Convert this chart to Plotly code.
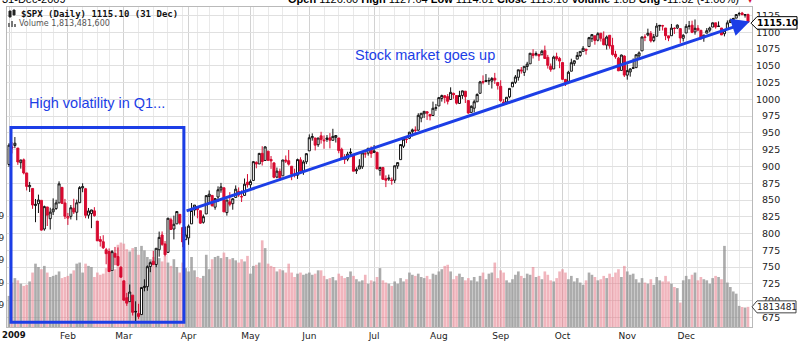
import datetime as dt
import plotly.graph_objects as go

# ---------------------------------------------------------------- data
# S&P 500 index ($SPX), daily sessions of 2009 (day-of-month per month)
SESSIONS = {
    1: [2, 5, 6, 7, 8, 9, 12, 13, 14, 15, 16, 20, 21, 22, 23, 26, 27, 28, 29, 30],
    2: [2, 3, 4, 5, 6, 9, 10, 11, 12, 13, 17, 18, 19, 20, 23, 24, 25, 26, 27],
    3: [2, 3, 4, 5, 6, 9, 10, 11, 12, 13, 16, 17, 18, 19, 20, 23, 24, 25, 26, 27, 30, 31],
    4: [1, 2, 3, 6, 7, 8, 9, 13, 14, 15, 16, 17, 20, 21, 22, 23, 24, 27, 28, 29, 30],
    5: [1, 4, 5, 6, 7, 8, 11, 12, 13, 14, 15, 18, 19, 20, 21, 22, 26, 27, 28, 29],
    6: [1, 2, 3, 4, 5, 8, 9, 10, 11, 12, 15, 16, 17, 18, 19, 22, 23, 24, 25, 26, 29, 30],
    7: [1, 2, 6, 7, 8, 9, 10, 13, 14, 15, 16, 17, 20, 21, 22, 23, 24, 27, 28, 29, 30, 31],
    8: [3, 4, 5, 6, 7, 10, 11, 12, 13, 14, 17, 18, 19, 20, 21, 24, 25, 26, 27, 28, 31],
    9: [1, 2, 3, 4, 8, 9, 10, 11, 14, 15, 16, 17, 18, 21, 22, 23, 24, 25, 28, 29, 30],
    10: [1, 2, 5, 6, 7, 8, 9, 12, 13, 14, 15, 16, 19, 20, 21, 22, 23, 26, 27, 28, 29, 30],
    11: [2, 3, 4, 5, 6, 9, 10, 11, 12, 13, 16, 17, 18, 19, 20, 23, 24, 25, 27, 30],
    12: [1, 2, 3, 4, 7, 8, 9, 10, 11, 14, 15, 16, 17, 18, 21, 22, 23, 24, 28, 29, 30, 31],
}

opens = [
    903.0, 929.2, 931.2, 927.5, 905.7, 909.9, 890.4, 869.8, 867.3, 841.8, 844.5, 849.6, 806.8, 839.7, 822.2, 832.5, 837.3, 845.7, 868.9, 845.7,
    823.1, 825.7, 837.8, 831.8, 846.1, 868.2, 866.9, 827.4, 829.9, 833.9, 818.6, 791.1, 787.9, 775.9, 773.3, 744.7, 770.6, 765.8, 749.9,
    729.6, 704.4, 698.6, 708.3, 684.0, 680.8, 679.3, 719.6, 720.9, 751.0, 758.8, 753.9, 776.0, 797.9, 784.6, 772.0, 820.6, 806.8, 814.5, 828.7, 809.1, 790.9,
    793.6, 814.5, 835.1, 839.8, 834.1, 816.8, 829.3, 855.3, 856.9, 839.4, 854.5, 865.2, 868.3, 831.3, 847.3, 844.6, 853.9, 862.8, 854.5, 856.9, 876.6,
    872.7, 879.2, 906.1, 903.8, 919.6, 909.0, 922.9, 910.5, 905.4, 884.2, 892.8, 886.1, 909.7, 908.6, 900.4, 888.7, 887.0, 909.9, 892.9, 907.0,
    923.3, 942.9, 942.5, 932.5, 945.7, 938.1, 940.4, 942.7, 939.0, 943.4, 942.5, 925.6, 911.9, 910.9, 919.9, 918.1, 893.5, 896.3, 899.5, 918.8, 919.9, 927.2,
    920.8, 921.2, 894.3, 898.6, 881.9, 881.3, 880.0, 879.6, 900.8, 910.2, 930.2, 940.6, 942.1, 951.9, 953.4, 954.1, 972.2, 978.6, 981.5, 977.7, 976.0, 986.8,
    990.2, 1001.4, 1005.4, 1004.1, 999.8, 1008.9, 1005.8, 994.0, 1005.9, 1012.2, 998.2, 980.6, 986.9, 996.4, 1009.1, 1026.6, 1026.6, 1027.4, 1027.3, 1031.6, 1025.2,
    1019.5, 996.1, 996.1, 1003.8, 1018.7, 1025.4, 1032.9, 1043.9, 1040.2, 1049.0, 1053.0, 1067.9, 1066.6, 1067.1, 1066.4, 1072.7, 1062.6, 1049.5, 1045.4, 1063.7, 1061.0,
    1054.9, 1029.7, 1026.9, 1042.0, 1053.7, 1060.0, 1065.3, 1071.6, 1074.8, 1078.7, 1090.4, 1094.7, 1088.2, 1098.6, 1090.4, 1080.9, 1095.6, 1080.4, 1067.5, 1061.5, 1043.2, 1064.6,
    1036.2, 1040.9, 1047.1, 1047.3, 1064.9, 1072.3, 1092.2, 1096.0, 1098.3, 1087.6, 1094.1, 1109.2, 1109.4, 1106.4, 1094.7, 1094.9, 1105.8, 1106.5, 1105.5, 1091.1,
    1098.9, 1109.0, 1110.6, 1100.5, 1106.0, 1103.0, 1092.0, 1098.7, 1103.1, 1107.8, 1114.1, 1108.6, 1106.4, 1097.9, 1105.0, 1114.5, 1118.8, 1121.1, 1127.5, 1128.6, 1125.5, 1126.60,
]
highs = [
    934.7, 936.6, 943.9, 927.5, 910.0, 911.9, 890.4, 877.0, 867.3, 851.6, 858.1, 849.6, 841.7, 839.7, 838.6, 852.5, 850.5, 877.9, 868.9, 851.7,
    830.8, 842.6, 851.9, 850.6, 870.8, 875.0, 868.1, 838.2, 835.5, 839.4, 818.6, 796.2, 797.6, 778.7, 777.9, 775.5, 780.1, 779.4, 751.3,
    729.6, 711.7, 724.1, 708.3, 699.1, 695.3, 719.6, 731.9, 752.6, 758.3, 774.5, 778.1, 803.0, 803.2, 788.9, 823.4, 823.7, 826.8, 832.9, 828.7, 809.1, 810.5,
    813.6, 845.6, 842.5, 839.8, 834.1, 828.4, 856.9, 864.3, 856.9, 852.9, 870.4, 875.6, 868.3, 850.1, 861.8, 852.9, 871.8, 868.8, 864.5, 882.1, 888.7,
    880.5, 907.9, 907.7, 920.3, 930.2, 930.2, 922.9, 915.6, 905.4, 898.4, 896.9, 910.0, 916.4, 924.6, 900.4, 896.7, 911.8, 913.8, 909.5, 920.0,
    947.8, 949.4, 942.5, 942.5, 951.7, 946.3, 946.9, 949.8, 956.2, 946.3, 942.5, 928.0, 918.4, 921.9, 927.1, 918.1, 898.7, 910.9, 921.4, 922.0, 927.2, 930.0,
    931.9, 921.2, 898.7, 898.6, 886.8, 887.9, 883.6, 901.1, 905.8, 933.0, 943.0, 941.9, 951.6, 956.5, 959.8, 979.4, 979.8, 982.5, 982.4, 977.8, 996.7, 993.2,
    1003.6, 1007.1, 1006.6, 1008.0, 1018.0, 1010.1, 1005.8, 1012.8, 1013.1, 1012.6, 998.2, 991.2, 999.6, 1008.9, 1027.6, 1035.8, 1037.8, 1032.5, 1033.3, 1039.5, 1025.2,
    1028.5, 1000.3, 1003.4, 1016.5, 1026.1, 1036.3, 1044.1, 1048.2, 1049.7, 1056.0, 1068.8, 1074.8, 1071.5, 1067.3, 1073.8, 1080.2, 1066.3, 1053.5, 1065.1, 1069.6, 1063.4,
    1054.9, 1030.6, 1042.6, 1060.6, 1058.0, 1070.7, 1071.5, 1079.5, 1075.3, 1093.2, 1096.6, 1094.7, 1100.2, 1098.6, 1101.4, 1095.2, 1095.8, 1091.8, 1072.5, 1063.3, 1066.8, 1065.6,
    1052.2, 1046.4, 1061.0, 1066.7, 1071.5, 1093.2, 1097.0, 1105.4, 1101.9, 1097.6, 1113.7, 1110.8, 1111.1, 1106.4, 1094.7, 1112.4, 1107.6, 1111.8, 1105.5, 1097.2,
    1112.3, 1116.9, 1117.3, 1119.1, 1110.7, 1103.0, 1095.9, 1106.3, 1108.4, 1114.8, 1114.1, 1116.2, 1106.4, 1103.7, 1117.7, 1120.3, 1121.6, 1126.5, 1130.4, 1130.4, 1126.4, 1127.64,
]
lows = [
    899.4, 919.5, 927.3, 902.4, 896.8, 888.3, 864.3, 862.0, 836.9, 817.0, 830.7, 804.5, 804.3, 811.3, 806.1, 827.7, 835.4, 845.7, 844.0, 821.7,
    812.9, 821.1, 829.2, 819.9, 845.4, 861.7, 822.9, 822.3, 808.1, 825.2, 789.0, 780.7, 777.0, 754.3, 742.4, 744.7, 752.9, 751.8, 734.5,
    699.7, 692.3, 698.6, 677.9, 666.8, 672.9, 679.3, 713.9, 714.8, 742.5, 753.4, 749.9, 765.6, 781.8, 766.2, 772.0, 805.5, 791.4, 814.5, 813.4, 779.8, 790.9,
    783.3, 814.5, 826.7, 822.8, 814.5, 814.8, 829.3, 845.4, 840.3, 835.6, 847.0, 860.9, 832.4, 826.8, 840.6, 835.6, 853.9, 854.7, 847.1, 856.9, 868.6,
    866.1, 879.2, 897.3, 903.8, 901.4, 909.0, 908.7, 896.5, 882.5, 882.5, 878.9, 886.1, 905.2, 901.4, 879.6, 883.8, 881.5, 891.9, 887.6, 903.6,
    923.3, 938.5, 923.9, 929.3, 934.1, 926.4, 936.7, 927.0, 939.0, 935.7, 919.7, 911.6, 903.8, 907.9, 915.8, 893.0, 888.9, 896.3, 896.3, 913.0, 916.2, 912.9,
    920.8, 896.4, 886.4, 879.9, 869.3, 878.5, 872.8, 875.3, 896.5, 910.2, 927.5, 934.9, 940.9, 945.0, 947.8, 953.3, 965.9, 972.3, 969.4, 968.7, 976.0, 982.9,
    990.2, 996.7, 994.3, 992.5, 999.8, 1000.9, 992.4, 993.4, 1000.8, 994.6, 978.5, 980.6, 980.6, 996.4, 1009.1, 1022.5, 1026.2, 1021.6, 1016.2, 1023.1, 1014.6,
    996.3, 991.0, 992.3, 1001.7, 1018.7, 1023.1, 1028.0, 1038.4, 1035.0, 1043.4, 1052.9, 1061.0, 1064.3, 1057.5, 1066.4, 1060.4, 1045.9, 1041.2, 1045.4, 1057.8, 1046.5,
    1029.5, 1019.9, 1025.9, 1042.0, 1050.0, 1060.0, 1063.0, 1071.6, 1066.7, 1078.7, 1085.4, 1081.5, 1086.5, 1086.2, 1080.8, 1074.3, 1075.5, 1065.2, 1060.6, 1042.2, 1043.2, 1033.4,
    1029.4, 1033.9, 1045.2, 1047.3, 1059.3, 1072.3, 1086.8, 1094.1, 1084.8, 1085.3, 1094.1, 1102.2, 1102.7, 1088.4, 1086.8, 1094.9, 1097.6, 1104.8, 1083.7, 1086.3,
    1098.9, 1104.0, 1098.7, 1096.5, 1101.4, 1088.6, 1085.9, 1098.7, 1100.2, 1107.8, 1105.4, 1107.9, 1095.9, 1093.9, 1105.0, 1114.5, 1116.0, 1121.1, 1124.0, 1126.2, 1121.9, 1114.81,
]
closes = [
    931.8, 927.5, 934.7, 906.7, 909.7, 890.4, 870.3, 871.8, 842.6, 843.7, 850.1, 805.2, 840.2, 827.5, 832.0, 836.6, 845.7, 874.1, 845.1, 825.9,
    825.4, 838.5, 832.2, 845.9, 868.6, 869.9, 827.2, 833.7, 835.2, 826.8, 789.2, 788.4, 778.9, 770.1, 743.3, 773.1, 764.9, 752.8, 735.1,
    700.8, 696.3, 712.9, 682.6, 683.4, 676.5, 719.6, 721.4, 750.7, 756.6, 753.9, 778.1, 794.4, 784.0, 768.5, 822.9, 806.1, 813.9, 832.9, 815.9, 787.5, 797.9,
    811.1, 834.4, 842.5, 835.5, 815.6, 825.2, 856.6, 858.7, 841.5, 852.1, 865.3, 869.6, 832.4, 850.1, 843.6, 851.9, 866.2, 857.5, 855.2, 873.6, 872.8,
    877.5, 907.2, 903.8, 919.5, 907.4, 929.2, 909.2, 908.4, 883.9, 893.1, 882.9, 909.7, 908.1, 903.5, 888.3, 887.0, 910.3, 893.1, 906.8, 919.1,
    942.9, 944.7, 931.8, 942.5, 940.1, 939.1, 942.4, 939.2, 944.9, 946.2, 923.7, 912.0, 910.7, 918.4, 921.2, 893.0, 895.1, 900.9, 920.3, 918.9, 927.2, 919.3,
    923.3, 896.4, 898.7, 881.0, 879.6, 882.7, 879.1, 901.1, 905.8, 932.7, 940.7, 940.4, 951.1, 954.6, 954.1, 976.3, 979.3, 982.2, 979.6, 975.2, 986.8, 987.5,
    1002.6, 1005.7, 1002.7, 997.1, 1010.5, 1007.1, 994.4, 1005.8, 1012.7, 1004.1, 979.7, 989.7, 996.5, 1007.4, 1026.1, 1025.6, 1028.0, 1028.1, 1031.0, 1028.9, 1020.6,
    998.0, 994.8, 1003.2, 1016.4, 1025.4, 1033.4, 1044.1, 1042.7, 1049.3, 1052.6, 1068.8, 1065.5, 1068.3, 1064.7, 1071.7, 1060.9, 1050.8, 1044.4, 1063.0, 1060.6, 1057.1,
    1029.9, 1025.2, 1040.5, 1054.7, 1057.6, 1065.5, 1071.5, 1076.2, 1073.2, 1092.0, 1096.6, 1087.7, 1097.9, 1091.1, 1081.4, 1092.9, 1079.6, 1067.0, 1063.4, 1042.6, 1066.1, 1036.2,
    1042.9, 1045.4, 1046.5, 1066.6, 1069.3, 1093.1, 1093.0, 1098.5, 1087.2, 1093.5, 1109.3, 1110.3, 1109.8, 1094.9, 1091.4, 1106.2, 1105.7, 1110.6, 1091.5, 1095.6,
    1108.9, 1109.2, 1099.9, 1106.0, 1103.3, 1091.9, 1095.9, 1102.4, 1106.4, 1114.1, 1107.9, 1109.2, 1096.1, 1102.5, 1114.1, 1118.0, 1120.6, 1126.5, 1127.8, 1126.2, 1126.42, 1115.10,
]
# daily volume, billions of shares
volume_bn = [
    2.8, 4.0, 4.4, 4.2, 3.9, 3.7, 3.8, 4.1, 4.9, 5.7, 5.4, 5.2, 5.5, 4.9, 4.5, 4.6, 4.7, 5.0, 4.4, 4.5,
    4.6, 4.8, 5.1, 5.7, 5.8, 4.9, 5.7, 5.5, 5.4, 4.5, 4.9, 4.7, 4.8, 5.3, 4.9, 5.0, 5.2, 7.4, 7.6,
    7.5, 7.0, 6.8, 7.1, 7.2, 6.5, 7.3, 6.9, 6.3, 6.1, 6.3, 5.8, 6.2, 5.9, 6.4, 5.8, 5.5, 6.1, 5.4, 4.9, 5.8, 5.3,
    5.0, 6.3, 5.1, 4.5, 4.4, 4.6, 6.5, 5.2, 6.1, 6.3, 6.4, 6.2, 6.7, 6.3, 6.1, 6.2, 6.0, 5.8, 6.1, 5.9, 6.4,
    4.8, 5.5, 5.6, 5.8, 7.8, 7.1, 5.7, 5.5, 5.4, 5.0, 5.2, 5.1, 4.9, 5.7, 4.9, 4.5, 4.8, 4.9, 4.7, 4.8,
    4.9, 4.7, 4.8, 5.1, 5.1, 4.6, 4.3, 4.4, 4.5, 4.2, 4.8, 4.6, 4.4, 4.5, 5.0, 4.6, 4.3, 4.1, 4.2, 4.7, 3.9, 4.2,
    4.1, 4.5, 5.3, 4.2, 4.0, 3.9, 3.7, 4.1, 3.9, 4.4, 4.1, 4.3, 4.9, 4.7, 4.6, 4.8, 4.5, 4.4, 4.6, 4.3, 4.8, 4.7,
    5.0, 5.2, 5.5, 5.6, 5.0, 4.3, 4.6, 4.8, 4.5, 4.2, 4.4, 4.2, 4.5, 4.1, 4.6, 4.9, 4.3, 4.8, 4.9, 5.8, 4.4,
    5.1, 4.9, 4.2, 4.0, 4.3, 4.7, 5.0, 4.6, 4.4, 4.8, 4.7, 5.4, 4.5, 4.6, 4.3, 5.0, 4.7, 4.2, 4.1, 4.4, 5.0,
    5.2, 4.9, 4.3, 4.6, 4.1, 4.4, 4.0, 3.8, 4.2, 4.9, 4.7, 4.5, 4.2, 4.3, 4.6, 4.4, 4.8, 4.5, 4.9, 5.2, 4.5, 5.5,
    5.0, 4.7, 4.8, 4.3, 4.0, 4.4, 4.0, 3.9, 4.3, 3.8, 4.5, 4.2, 4.1, 4.6, 4.1, 3.9, 3.6, 3.5, 2.2, 4.2,
    4.6, 4.3, 4.7, 4.9, 4.2, 4.5, 4.3, 4.2, 3.9, 4.4, 4.6, 4.5, 4.3, 7.3, 4.0, 3.6, 3.2, 3.0, 1.9, 1.8, 1.75, 1.8134816,
]

MONTH_NAMES = ["Jan", "Feb", "Mar", "Apr", "May", "Jun", "Jul", "Aug", "Sep", "Oct", "Nov", "Dec"]
PRICE_TICKS = list(range(675, 1126, 25))
VOLUME_TICKS = [2, 4, 6, 8, 10]

# ---------------------------------------------------------------- styling
BLUE = "#1c3ee6"
RED = "#d70a30"
INK = "#111111"
VOL_UP = "rgba(140,140,140,0.72)"
VOL_DOWN = "rgba(230,120,135,0.55)"
FRAME = "#b9b9b9"
SANS = "DejaVu Sans"
ARIAL = "Liberation Sans, Arial"

dates = [dt.date(2009, m, d) for m in range(1, 13) for d in SESSIONS[m]]
n = len(dates)
assert all(len(a) == n for a in (opens, highs, lows, closes, volume_bn))
idx = list(range(n))

prev_close = [opens[0]] + closes[:-1]
gained = [c >= p for c, p in zip(closes, prev_close)]

month_idx = [i for i in idx if i == 0 or dates[i].month != dates[i - 1].month]
week_idx = [i for i in idx if i == 0 or dates[i].isocalendar()[1] != dates[i - 1].isocalendar()[1]]
month_text = ["" if i == 0 else MONTH_NAMES[dates[i].month - 1] for i in month_idx]

# plot-area geometry in page pixels
L, R, T, B = 7, 48, 7, 14
W, H = 800, 341
PW, PH = W - L - R, H - T - B


def px_x(px):
    return (px - L) / PW


def px_y(py):
    return (H - B - py) / PH


fig = go.Figure()

# volume histogram behind the price bars
fig.add_trace(go.Bar(
    x=idx, y=volume_bn, yaxis="y", xaxis="x",
    marker=dict(color=[VOL_UP if g else VOL_DOWN for g in gained], line=dict(width=0)),
    hoverinfo="skip",
))

# candlesticks: colour by change vs previous close, hollow when close > open
for is_up, color in ((True, INK), (False, RED)):
    keep = [g == is_up for g in gained]

    def pick(arr):
        return [v if k else None for v, k in zip(arr, keep)]

    fig.add_trace(go.Candlestick(
        x=idx, open=pick(opens), high=pick(highs), low=pick(lows), close=pick(closes),
        xaxis="x", yaxis="y2",
        increasing=dict(line=dict(color=color, width=1), fillcolor="white"),
        decreasing=dict(line=dict(color=color, width=1), fillcolor=color),
        whiskerwidth=0, hoverinfo="skip",
    ))

last = n - 1
last_vol = volume_bn[last]

shapes = [
    # Q1 box
    dict(type="rect", xref="x", yref="y2", x0=0.68, x1=59.4, y0=668, y1=958,
         line=dict(color=BLUE, width=3), fillcolor="rgba(0,0,0,0)", layer="above"),
    # price tag on the right axis
    dict(type="path", xref="paper", yref="y2", xsizemode="pixel", ysizemode="pixel",
         xanchor=1, yanchor=closes[last],
         path="M -1,-1 L 5,-7 L 45,-7 L 45,5.5 L 5,5.5 Z",
         line=dict(color="#000000", width=1), fillcolor="white", layer="above"),
    # volume tag on the right axis
    dict(type="path", xref="paper", yref="y", xsizemode="pixel", ysizemode="pixel",
         xanchor=1, yanchor=last_vol,
         path="M 0,0 L 5,-6 L 44,-6 L 44,6 L 5,6 Z",
         line=dict(color="#444444", width=1), fillcolor="white", layer="above"),
]

# small legend glyphs
for x0, x1, y0, y1 in ((9, 11, 11, 17), (13, 15, 10, 15)):
    shapes.append(dict(type="rect", xref="paper", yref="paper",
                       x0=px_x(x0), x1=px_x(x1), y0=px_y(y1), y1=px_y(y0),
                       line=dict(color="#222", width=1), fillcolor="#222"))
for x0, x1, y0 in ((8, 10, 23), (11, 13, 21), (14, 16, 24)):
    shapes.append(dict(type="rect", xref="paper", yref="paper",
                       x0=px_x(x0), x1=px_x(x1), y0=px_y(27), y1=px_y(y0),
                       line=dict(width=0), fillcolor="#777"))

chg = closes[last] - closes[last - 1]
header_vals = (
    f"<b>Open</b> {opens[last]:.2f} <b>High</b> {highs[last]:.2f} <b>Low</b> {lows[last]:.2f} "
    f"<b>Close</b> {closes[last]:.2f} <b>Volume</b> {last_vol:.1f}B "
    f"<b>Chg</b> {chg:.2f} ({chg / closes[last - 1] * 100:.2f}%)"
)

annotations = [
    # header strip
    dict(xref="paper", yref="paper", x=px_x(0), y=px_y(-1), xanchor="left", yanchor="middle",
         text=dates[last].strftime("%d-%b-%Y"), showarrow=False,
         font=dict(family=ARIAL, size=11, color="#000")),
    dict(xref="paper", yref="paper", x=px_x(741), y=px_y(-1), xanchor="right", yanchor="middle",
         text=header_vals, showarrow=False, font=dict(family=ARIAL, size=11, color="#000")),
    dict(xref="paper", yref="paper", x=px_x(750), y=px_y(0), xanchor="center", yanchor="middle",
         text="\u25bc", showarrow=False, font=dict(family=SANS, size=8, color=RED)),
    # in-chart legend
    dict(xref="paper", yref="paper", x=px_x(19), y=px_y(13.7), xanchor="left", yanchor="middle",
         text=f"<b>$SPX (Daily) {closes[last]:.2f} ({dates[last].day} {MONTH_NAMES[dates[last].month - 1]})</b>",
         showarrow=False, font=dict(family="DejaVu Sans Mono", size=9, color="#111")),
    dict(xref="paper", yref="paper", x=px_x(17), y=px_y(23.3), xanchor="left", yanchor="middle",
         text=f"Volume {last_vol * 1e9:,.0f}", showarrow=False,
         font=dict(family=SANS, size=8, color="#555")),
    # year label under the first session
    dict(xref="paper", yref="paper", x=px_x(0), y=px_y(335), xanchor="left", yanchor="middle",
         text=f"<b>{dates[0].year}</b>", showarrow=False, font=dict(family=SANS, size=8.5, color="#111")),
    # value tags
    dict(xref="paper", yref="y2", x=1, y=closes[last], xshift=25, yshift=-0.8,
         xanchor="center", yanchor="middle",
         text=f"<b>{closes[last]:.2f}</b>", showarrow=False, font=dict(family=SANS, size=9, color="#000")),
    dict(xref="paper", yref="y", x=1, y=last_vol, xshift=24.5, xanchor="center", yanchor="middle",
         text=f"{int(last_vol * 1e6)}", showarrow=False, font=dict(family=SANS, size=9, color="#222")),
    # commentary
    dict(xref="x", yref="y2", x=6.1, y=994.6, xanchor="left", yanchor="middle",
         text="High volatility in Q1...", showarrow=False, font=dict(family=ARIAL, size=14.5, color=BLUE)),
    dict(xref="x", yref="y2", x=116.8, y=1066, xanchor="left", yanchor="middle",
         text="Stock market goes up", showarrow=False, font=dict(family=ARIAL, size=14.5, color=BLUE)),
    dict(xref="x", yref="y2", x=251.6, y=1116, axref="x", ayref="y2", ax=59.8, ay=833,
         text="", showarrow=True, arrowhead=2, arrowsize=1.2, arrowwidth=3, arrowcolor=BLUE,
         standoff=0, startstandoff=0),
]

price_text = [f"{v}" if v >= 1000 else f"\u2007{v}" for v in PRICE_TICKS]

fig.update_layout(
    width=W, height=H,
    margin=dict(l=L, r=R, t=T, b=B, pad=0, autoexpand=False),
    paper_bgcolor="white", plot_bgcolor="white",
    showlegend=False,
    bargap=0.1, boxgap=0.3, boxgroupgap=0,
    xaxis=dict(
        range=[-0.68, 252.36], tickvals=month_idx, ticktext=month_text,
        showgrid=True, gridcolor="#d2d2d2", gridwidth=1,
        minor=dict(tickvals=week_idx, showgrid=True, gridcolor="#e9e9e9", gridwidth=1),
        ticks="", zeroline=False, showline=True, mirror=True, linecolor=FRAME, linewidth=1,
        tickfont=dict(family=SANS, size=9, color="#222"), automargin=False,
        rangeslider=dict(visible=False), fixedrange=True,
    ),
    yaxis=dict(
        side="left", range=[0, 28.8], tickvals=VOLUME_TICKS,
        ticktext=[f"{v:.1f}e9" for v in VOLUME_TICKS],
        showgrid=False, zeroline=False, ticks="", automargin=False,
        showline=True, mirror=True, linecolor=FRAME, linewidth=1,
        tickfont=dict(family=SANS, size=9, color="#333"),
    ),
    yaxis2=dict(
        overlaying="y", side="right", anchor="x", range=[660.8, 1137.7],
        tickvals=PRICE_TICKS, ticktext=price_text, automargin=False,
        showgrid=True, gridcolor="#e0e0e0", gridwidth=1, zeroline=False, ticks="",
        tickfont=dict(family=SANS, size=9.5, color="#222"), ticklabelstandoff=3,
    ),
    shapes=shapes,
    annotations=annotations,
)

fig.write_html("out.html")
